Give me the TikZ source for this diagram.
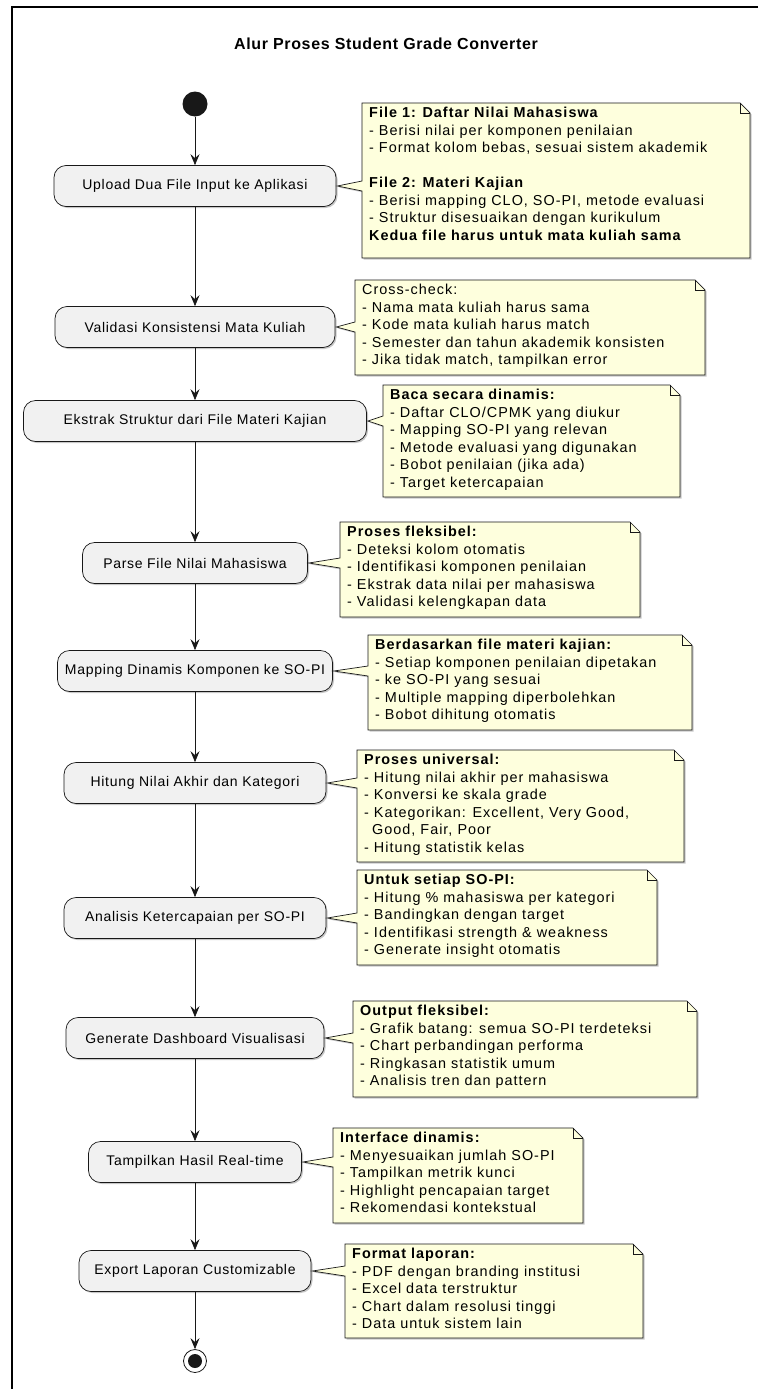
\documentclass[tikz,border=0pt]{standalone}
\usepackage{fontspec}
\setmainfont{Liberation Sans}
\newfontfamily\notefont[LetterSpace=7]{Liberation Sans}
\newfontfamily\actfont[LetterSpace=5]{Liberation Sans}
\newfontfamily\titlefont[LetterSpace=4]{Liberation Sans}
\usetikzlibrary{calc,arrows.meta,shadows}
\definecolor{linec}{HTML}{181818}
\definecolor{actfill}{HTML}{F1F1F1}
\definecolor{notefill}{HTML}{FEFFDD}
\tikzset{
 softshadow/.style={drop shadow={shadow xshift=1.5pt, shadow yshift=-1.5pt, opacity=0.22, fill=black}},
 act/.style={draw=linec, fill=actfill, rounded corners=12pt, minimum height=41pt, line width=0.7pt, font=\actfont\fontsize{14}{16}\selectfont, inner sep=0pt, softshadow},
 flow/.style={draw=linec, line width=0.7pt, -{Stealth[length=11pt,width=9pt,inset=4pt]}},
 notetext/.style={anchor=north west, inner sep=0pt, align=left, font=\notefont\fontsize{14.4}{17.5}\selectfont},
 noteshape/.style={draw=linec, fill=notefill, line width=0.7pt, softshadow},
 framebar/.style={draw=black, line width=2.5pt},
}
\newcommand{\drawnote}[6]{%
 \coordinate (#1nw) at (#2,#3);
 \coordinate (#1se) at (#4,#5);
 \coordinate (#1ne) at (#4,#3);
 \coordinate (#1sw) at (#2,#5);
 \coordinate (#1tip) at ($(#6.east)+(1,0)$);
 \coordinate (#1wa) at ($(#6.east -| #1nw)+(0,-5)$);
 \coordinate (#1wb) at ($(#6.east -| #1nw)+(0,5)$);
 \path[noteshape] (#1nw) -- ($(#1ne)+(-10,0)$) -- ($(#1ne)+(0,10)$) -- (#1se) -- (#1sw) -- (#1wb) -- (#1tip) -- (#1wa) -- cycle;
 \draw[linec, line width=0.7pt] ($(#1ne)+(-10,0)$) -- ($(#1ne)+(-10,10)$) -- ($(#1ne)+(0,10)$);
}
\begin{document}
\begin{tikzpicture}[x=1pt,y=-1pt]
\useasboundingbox (0,0) rectangle (758,1389);
\fill[white] (0,0) rectangle (758,1389);
\coordinate (fa) at (12,7);
\coordinate (fb) at (758,7);
\coordinate (fc) at (12,1389);
\draw[framebar] (fb) -- (fa) -- (fc);

\node[font=\titlefont\bfseries\fontsize{16}{19}\selectfont] (title) at (386,44) {Alur Proses Student Grade Converter};

\node[circle, fill=linec, minimum size=25pt, inner sep=0pt] (start) at (195,104) {};

\node[act, minimum width=282pt] (a1) at (195,186) {Upload Dua File Input ke Aplikasi};
\node[act, minimum width=280pt] (a2) at (195,327) {Validasi Konsistensi Mata Kuliah};
\node[act, minimum width=343pt] (a3) at (195,421) {Ekstrak Struktur dari File Materi Kajian};
\node[act, minimum width=225pt] (a4) at (195,563) {Parse File Nilai Mahasiswa};
\node[act, minimum width=275pt] (a5) at (195,671) {Mapping Dinamis Komponen ke SO-PI};
\node[act, minimum width=262pt] (a6) at (195,783) {Hitung Nilai Akhir dan Kategori};
\node[act, minimum width=262pt] (a7) at (195,918) {Analisis Ketercapaian per SO-PI};
\node[act, minimum width=258pt] (a8) at (195,1038) {Generate Dashboard Visualisasi};
\node[act, minimum width=213pt] (a9) at (195,1162) {Tampilkan Hasil Real-time};
\node[act, minimum width=232pt] (a10) at (195,1271) {Export Laporan Customizable};

\node[circle, draw=linec, line width=0.8pt, fill=white, minimum size=23pt, inner sep=0pt] (end) at (195,1361) {};
\node[circle, fill=linec, minimum size=14pt, inner sep=0pt] (endin) at (end) {};

\draw[flow] (start) -- (a1);
\draw[flow] (a1) -- (a2);
\draw[flow] (a2) -- (a3);
\draw[flow] (a3) -- (a4);
\draw[flow] (a4) -- (a5);
\draw[flow] (a5) -- (a6);
\draw[flow] (a6) -- (a7);
\draw[flow] (a7) -- (a8);
\draw[flow] (a8) -- (a9);
\draw[flow] (a9) -- (a10);
\draw[flow] (a10) -- (end);

\drawnote{n1}{362}{103}{750}{258}{a1}
\node[notetext] (t1) at ($(n1nw)+(7,4)$) {\textbf{File 1: Daftar Nilai Mahasiswa}\\- Berisi nilai per komponen penilaian\\- Format kolom bebas, sesuai sistem akademik\\\mbox{}\\\textbf{File 2: Materi Kajian}\\- Berisi mapping CLO, SO-PI, metode evaluasi\\- Struktur disesuaikan dengan kurikulum\\\textbf{Kedua file harus untuk mata kuliah sama}};

\drawnote{n2}{355}{280}{705}{375}{a2}
\node[notetext] (t2) at ($(n2nw)+(7,4)$) {Cross-check:\\- Nama mata kuliah harus sama\\- Kode mata kuliah harus match\\- Semester dan tahun akademik konsisten\\- Jika tidak match, tampilkan error};

\drawnote{n3}{383}{385}{680}{497}{a3}
\node[notetext] (t3) at ($(n3nw)+(7,4)$) {\textbf{Baca secara dinamis:}\\- Daftar CLO/CPMK yang diukur\\- Mapping SO-PI yang relevan\\- Metode evaluasi yang digunakan\\- Bobot penilaian (jika ada)\\- Target ketercapaian};

\drawnote{n4}{340}{522}{640}{617}{a4}
\node[notetext] (t4) at ($(n4nw)+(7,4)$) {\textbf{Proses fleksibel:}\\- Deteksi kolom otomatis\\- Identifikasi komponen penilaian\\- Ekstrak data nilai per mahasiswa\\- Validasi kelengkapan data};

\drawnote{n5}{368}{635}{692}{730}{a5}
\node[notetext] (t5) at ($(n5nw)+(7,4)$) {\textbf{Berdasarkan file materi kajian:}\\- Setiap komponen penilaian dipetakan\\- ke SO-PI yang sesuai\\- Multiple mapping diperbolehkan\\- Bobot dihitung otomatis};

\drawnote{n6}{357}{750}{684}{862}{a6}
\node[notetext] (t6) at ($(n6nw)+(7,4)$) {\textbf{Proses universal:}\\- Hitung nilai akhir per mahasiswa\\- Konversi ke skala grade\\- Kategorikan: Excellent, Very Good,\\\hspace*{8pt}Good, Fair, Poor\\- Hitung statistik kelas};

\drawnote{n7}{357}{870}{657}{965}{a7}
\node[notetext] (t7) at ($(n7nw)+(7,4)$) {\textbf{Untuk setiap SO-PI:}\\- Hitung \% mahasiswa per kategori\\- Bandingkan dengan target\\- Identifikasi strength \& weakness\\- Generate insight otomatis};

\drawnote{n8}{353}{1001}{697}{1097}{a8}
\node[notetext] (t8) at ($(n8nw)+(7,4)$) {\textbf{Output fleksibel:}\\- Grafik batang: semua SO-PI terdeteksi\\- Chart perbandingan performa\\- Ringkasan statistik umum\\- Analisis tren dan pattern};

\drawnote{n9}{333}{1128}{583}{1223}{a9}
\node[notetext] (t9) at ($(n9nw)+(7,4)$) {\textbf{Interface dinamis:}\\- Menyesuaikan jumlah SO-PI\\- Tampilkan metrik kunci\\- Highlight pencapaian target\\- Rekomendasi kontekstual};

\drawnote{n10}{345}{1244}{643}{1338}{a10}
\node[notetext] (t10) at ($(n10nw)+(7,4)$) {\textbf{Format laporan:}\\- PDF dengan branding institusi\\- Excel data terstruktur\\- Chart dalam resolusi tinggi\\- Data untuk sistem lain};
\end{tikzpicture}
\end{document}
